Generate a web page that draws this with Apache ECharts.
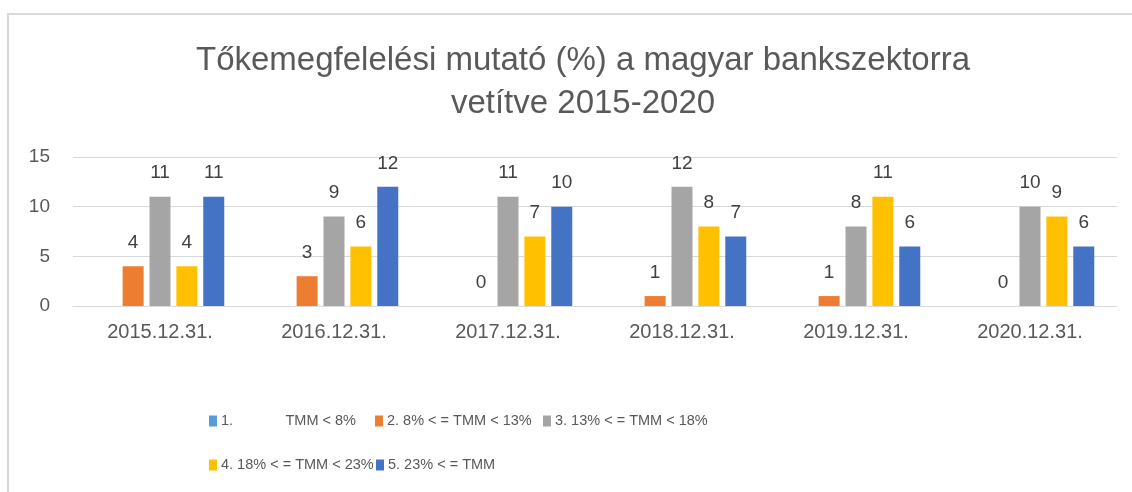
<!DOCTYPE html>
<html>
<head>
<meta charset="utf-8">
<script src="https://cdn.jsdelivr.net/npm/echarts@6/dist/echarts.min.js"></script>
<style>
  html, body { margin: 0; padding: 0; background: #fff; }
  #chart { width: 1132px; height: 492px; }
</style>
</head>
<body>
<div id="chart"></div>
<script>
const categories = ["2015.12.31.", "2016.12.31.", "2017.12.31.", "2018.12.31.", "2019.12.31.", "2020.12.31."];
const seriesNames = [
  "1.             TMM < 8%",
  "2. 8% < = TMM < 13%",
  "3. 13% < = TMM < 18%",
  "4. 18% < = TMM < 23%",
  "5. 23% < = TMM"
];
const tmm1 = [0, 0, 0, 0, 0, 0];
const tmm2 = [4, 3, 0, 1, 1, 0];
const tmm3 = [11, 9, 11, 12, 8, 10];
const tmm4 = [4, 6, 7, 8, 11, 9];
const tmm5 = [11, 12, 10, 7, 6, 6];
const yTicks = [0, 5, 10, 15];

const values = [tmm1, tmm2, tmm3, tmm4, tmm5];
const colors = ["#5B9BD5", "#ED7D31", "#A5A5A5", "#FFC000", "#4472C4"];
const font = "'Liberation Sans', Arial, sans-serif";

// legend item positions (two rows like the original)
const legendPos = [
  { left: 204, top: 405 },
  { left: 370, top: 405 },
  { left: 538, top: 405 },
  { left: 204, top: 449 },
  { left: 371, top: 449 }
];

const chart = echarts.init(document.getElementById("chart"));

const option = {
  backgroundColor: "#fff",
  animation: false,
  graphic: [
    {
      type: "rect",
      shape: { x: 8, y: 14, width: 1200, height: 600 },
      style: { fill: "none", stroke: "#d9d9d9", lineWidth: 2 },
      silent: true
    }
  ],
  title: {
    text: "Tőkemegfelelési mutató (%) a magyar bankszektorra\nvetítve 2015-2020",
    left: 578,
    top: 34,
    textAlign: "center",
    textStyle: {
      fontFamily: font,
      fontSize: 33,
      fontWeight: "normal",
      color: "#595959",
      lineHeight: 43
    }
  },
  legend: seriesNames.map((name, i) => ({
    data: [name],
    left: legendPos[i].left,
    top: legendPos[i].top,
    icon: "rect",
    itemWidth: 8,
    itemHeight: 11,
    itemGap: 4,
    selectedMode: false,
    textStyle: {
      fontFamily: font,
      fontSize: 14.5,
      color: "#595959",
      lineHeight: 22,
      padding: [0, 0, 0, -1]
    }
  })),
  grid: {
    left: 73,
    right: 15,
    top: 157,
    bottom: 186
  },
  xAxis: {
    type: "category",
    data: categories,
    axisLine: { show: true, lineStyle: { color: "#d9d9d9", width: 1 } },
    axisTick: { show: false },
    axisLabel: {
      fontFamily: font,
      fontSize: 20,
      color: "#595959",
      margin: 16
    }
  },
  yAxis: {
    type: "value",
    min: yTicks[0],
    max: yTicks[yTicks.length - 1],
    interval: 5,
    axisLine: { show: false },
    axisTick: { show: false },
    splitLine: { lineStyle: { color: "#d9d9d9", width: 1 } },
    axisLabel: {
      fontFamily: font,
      fontSize: 19,
      color: "#595959",
      margin: 23
    }
  },
  series: seriesNames.map((name, i) => ({
    name: name,
    type: "bar",
    data: values[i],
    barWidth: 21,
    barGap: "28%",
    itemStyle: {
      color: colors[i]
    },
    label: {
      show: i > 0,
      position: "top",
      distance: 14,
      fontFamily: font,
      fontSize: 19,
      color: "#404040"
    }
  }))
};

chart.setOption(option);
</script>
</body>
</html>
